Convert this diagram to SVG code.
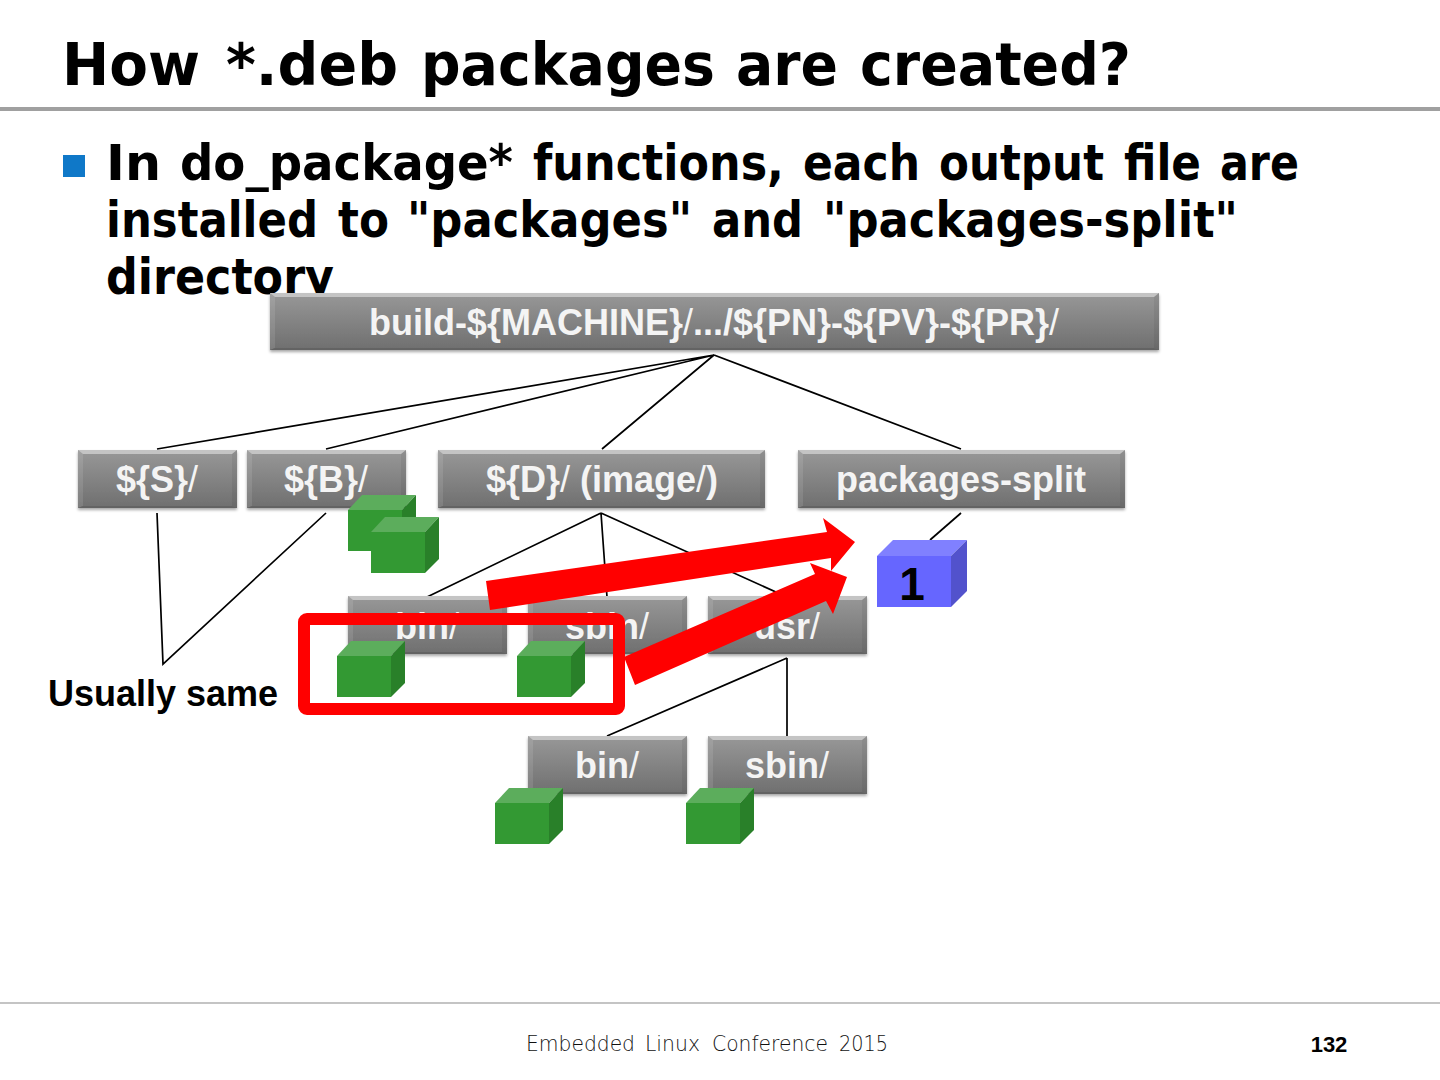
<svg xmlns="http://www.w3.org/2000/svg" xmlns:xlink="http://www.w3.org/1999/xlink" width="1440" height="1080" viewBox="0 0 1440 1080">
<style>
.h{font-family:"DejaVu Sans",Verdana,sans-serif;font-weight:700;fill:#000}
.b{font-family:"Liberation Sans",Arial,sans-serif;font-weight:700;font-size:36px;fill:#f4f4f4;text-anchor:middle}
.t{font-weight:400}
.lb{font-family:"Liberation Sans",Arial,sans-serif;font-weight:700;fill:#000}
.c{fill:none;stroke:#000;stroke-width:1.7}
.bt{fill:#c4c4c4}.bl{fill:#fff;fill-opacity:.1}.br{fill:#000;fill-opacity:.06}.bb{fill:#636363}
</style>
<defs>
<linearGradient id="g" x1="0" y1="0" x2="0" y2="1"><stop offset="0" stop-color="#989898"/><stop offset="1" stop-color="#6f6f6f"/></linearGradient>
<filter id="s" x="-5%" y="-10%" width="110%" height="125%"><feDropShadow dx="0" dy="2" stdDeviation="1.5" flood-color="#000" flood-opacity=".35"/></filter>
<g id="gc"><rect x="0" y="15" width="54" height="41" fill="#339933"/><polygon points="0,15 14,0 68,0 54,15" fill="#5cad5c"/><polygon points="54,15 68,0 68,42 54,56" fill="#298029"/></g>
<g id="b158"><rect width="159" height="58" fill="url(#g)" filter="url(#s)"/><path d="M0 0H159L154 4H5Z" class="bt"/><path d="M0 0L5 4V56L0 58Z" class="bl"/><path d="M159 0L154 4V56L159 58Z" class="br"/><path d="M0 58L5 56H154L159 58Z" class="bb"/></g>
<g id="b327"><rect width="327" height="58" fill="url(#g)" filter="url(#s)"/><path d="M0 0H327L322 4H5Z" class="bt"/><path d="M0 0L5 4V56L0 58Z" class="bl"/><path d="M327 0L322 4V56L327 58Z" class="br"/><path d="M0 58L5 56H322L327 58Z" class="bb"/></g>
</defs>
<rect width="1440" height="1080" fill="#fff"/>
<text class="h" y="85" font-size="59"><tspan x="62" textLength="138" lengthAdjust="spacingAndGlyphs">How</tspan> <tspan x="226" textLength="172" lengthAdjust="spacingAndGlyphs">*.deb</tspan> <tspan x="421" textLength="294" lengthAdjust="spacingAndGlyphs">packages</tspan> <tspan x="736" textLength="102" lengthAdjust="spacingAndGlyphs">are</tspan> <tspan x="860" textLength="271" lengthAdjust="spacingAndGlyphs">created?</tspan></text>
<rect x="0" y="107" width="1440" height="4" fill="#a0a0a0"/>
<rect x="63" y="155" width="22" height="22" fill="#0f78c8"/>
<text class="h" y="180" font-size="50"><tspan x="106" textLength="55" lengthAdjust="spacingAndGlyphs">In</tspan> <tspan x="180" textLength="333" lengthAdjust="spacingAndGlyphs">do_package*</tspan> <tspan x="533" textLength="251" lengthAdjust="spacingAndGlyphs">functions,</tspan> <tspan x="803" textLength="117" lengthAdjust="spacingAndGlyphs">each</tspan> <tspan x="939" textLength="165" lengthAdjust="spacingAndGlyphs">output</tspan> <tspan x="1124" textLength="77" lengthAdjust="spacingAndGlyphs">file</tspan> <tspan x="1220" textLength="79" lengthAdjust="spacingAndGlyphs">are</tspan></text>
<text class="h" y="237" font-size="50"><tspan x="106" textLength="212" lengthAdjust="spacingAndGlyphs">installed</tspan> <tspan x="338" textLength="51" lengthAdjust="spacingAndGlyphs">to</tspan> <tspan x="407" textLength="285" lengthAdjust="spacingAndGlyphs">"packages"</tspan> <tspan x="712" textLength="91" lengthAdjust="spacingAndGlyphs">and</tspan> <tspan x="823" textLength="415" lengthAdjust="spacingAndGlyphs">"packages-split"</tspan></text>
<text class="h" x="106" y="294" font-size="50" textLength="228" lengthAdjust="spacingAndGlyphs">directory</text>
<g id="connectors">
<path class="c" d="M714 355L157 449M714 355L326 449M714 355L602 449M714 355L961 449"/>
<path class="c" d="M157 513L163 664L326 513"/>
<path class="c" d="M601 513L427 597M601 513L607 597M601 513L787 597"/>
<path class="c" d="M961 513L930 540"/>
<path class="c" d="M787 658L607 736M787 658L787 736"/>
</g>
<g id="n-root"><rect x="270" y="293" width="889" height="57" fill="url(#g)" filter="url(#s)"/><path d="M270 293H1159L1154 297H275Z" class="bt"/><path d="M270 293L275 297V348L270 350Z" class="bl"/><path d="M1159 293L1154 297V348L1159 350Z" class="br"/><path d="M270 350L275 348H1154L1159 350Z" class="bb"/><text class="b" x="714" y="335">build-${MACHINE}<tspan class="t">/</tspan>.../${PN}-${PV}-${PR}<tspan class="t">/</tspan></text></g>
<g id="n-s"><use xlink:href="#b158" href="#b158" x="78" y="450"/><text class="b" x="157" y="492">${S}<tspan class="t">/</tspan></text></g>
<g id="n-b"><use xlink:href="#b158" href="#b158" x="247" y="450"/><text class="b" x="326" y="492">${B}<tspan class="t">/</tspan></text></g>
<g id="n-d"><use xlink:href="#b327" href="#b327" x="438" y="450"/><text class="b" x="602" y="492">${D}<tspan class="t">/</tspan> (image<tspan class="t">/</tspan>)</text></g>
<g id="n-split"><use xlink:href="#b327" href="#b327" x="798" y="450"/><text class="b" x="961" y="492">packages-split</text></g>
<g id="n-bin"><use xlink:href="#b158" href="#b158" x="348" y="596"/><text class="b" x="427" y="639">bin<tspan class="t">/</tspan></text></g>
<g id="n-sbin"><use xlink:href="#b158" href="#b158" x="528" y="596"/><text class="b" x="607" y="639">sbin<tspan class="t">/</tspan></text></g>
<g id="n-usr"><use xlink:href="#b158" href="#b158" x="708" y="596"/><text class="b" x="787" y="639">usr<tspan class="t">/</tspan></text></g>
<g id="n-usrbin"><use xlink:href="#b158" href="#b158" x="528" y="736"/><text class="b" x="607" y="778">bin<tspan class="t">/</tspan></text></g>
<g id="n-usrsbin"><use xlink:href="#b158" href="#b158" x="708" y="736"/><text class="b" x="787" y="778">sbin<tspan class="t">/</tspan></text></g>
<g id="cubes">
<use xlink:href="#gc" href="#gc" x="348" y="495"/>
<use xlink:href="#gc" href="#gc" x="371" y="517"/>
<use xlink:href="#gc" href="#gc" x="337" y="641"/>
<use xlink:href="#gc" href="#gc" x="517" y="641"/>
<use xlink:href="#gc" href="#gc" x="495" y="788"/>
<use xlink:href="#gc" href="#gc" x="686" y="788"/>
</g>
<g id="n-one">
<rect x="877" y="556" width="74" height="51" fill="#6666ff"/><polygon points="877,556 893,540 967,540 951,556" fill="#8080ff"/><polygon points="951,556 967,540 967,591 951,607" fill="#5252cc"/>
<text class="lb" x="912" y="600" font-size="46" text-anchor="middle">1</text>
</g>
<text class="lb" x="163" y="706" font-size="36" text-anchor="middle">Usually same</text>
<rect id="frame" x="304" y="619" width="315" height="90" rx="3" fill="none" stroke="#f00" stroke-width="12"/>
<polygon id="arrow1" points="486,581 827,532 823,518 855,542 831,571 831,558 490,610" fill="#f00"/>
<polygon id="arrow2" points="624,657 815,574 810,563 847,577 833,614 826,601 635,685" fill="#f00"/>
<rect x="0" y="1002" width="1440" height="2" fill="#c4c4c4"/>
<text y="1051" font-family="'DejaVu Sans',sans-serif" font-weight="200" font-size="22" fill="#111"><tspan x="526" textLength="109" lengthAdjust="spacingAndGlyphs">Embedded</tspan> <tspan x="645" textLength="55" lengthAdjust="spacingAndGlyphs">Linux</tspan> <tspan x="712" textLength="116" lengthAdjust="spacingAndGlyphs">Conference</tspan> <tspan x="839" textLength="49" lengthAdjust="spacingAndGlyphs">2015</tspan></text>
<text class="lb" x="1329" y="1052" font-size="22" text-anchor="middle">132</text>
</svg>
